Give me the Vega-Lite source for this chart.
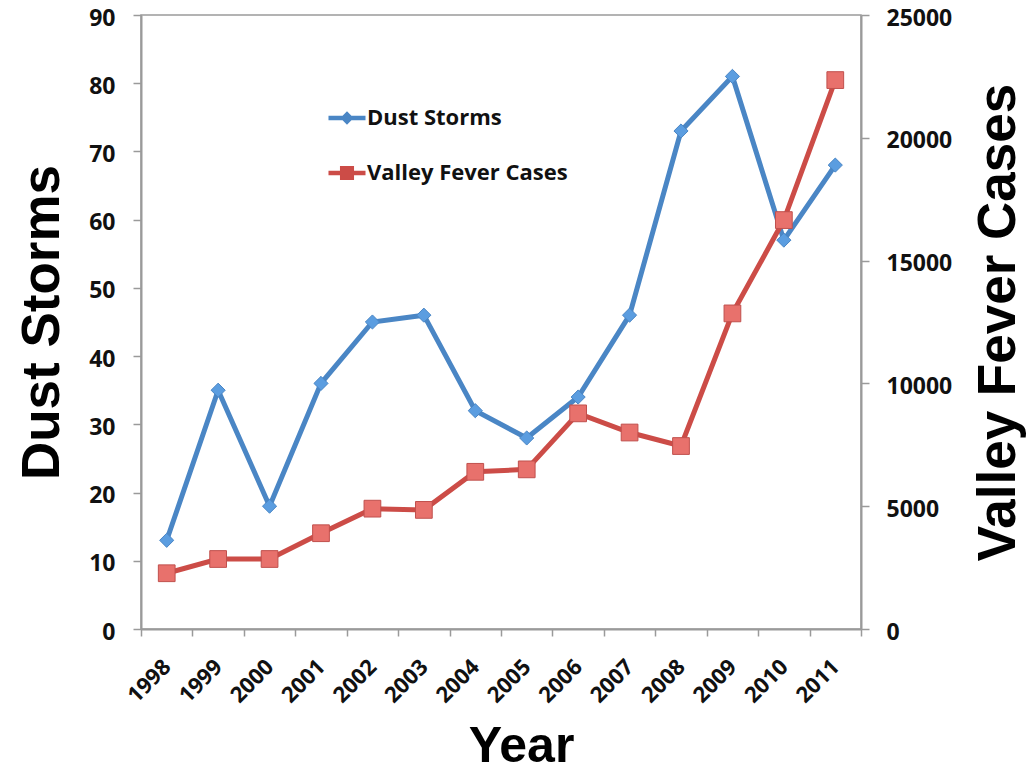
{
  "$schema": "https://vega.github.io/schema/vega-lite/v6.json",
  "width": 720,
  "height": 614,
  "autosize": {"type": "none"},
  "padding": {"left": 141, "top": 15, "right": 168, "bottom": 142},
  "background": "white",
  "config": {
    "view": {"stroke": "#9a9a9a", "strokeWidth": 1.5},
    "axis": {"grid": false, "domainColor": "#9a9a9a", "domainWidth": 2, "tickColor": "#9a9a9a", "tickWidth": 1.5, "labelColor": "#111", "titleColor": "#000"}
  },
  "data": {"values": [
    {"Year": "1998", "Series": "Dust Storms", "Value": 13},
    {"Year": "1999", "Series": "Dust Storms", "Value": 35},
    {"Year": "2000", "Series": "Dust Storms", "Value": 18},
    {"Year": "2001", "Series": "Dust Storms", "Value": 36},
    {"Year": "2002", "Series": "Dust Storms", "Value": 45},
    {"Year": "2003", "Series": "Dust Storms", "Value": 46},
    {"Year": "2004", "Series": "Dust Storms", "Value": 32},
    {"Year": "2005", "Series": "Dust Storms", "Value": 28},
    {"Year": "2006", "Series": "Dust Storms", "Value": 34},
    {"Year": "2007", "Series": "Dust Storms", "Value": 46},
    {"Year": "2008", "Series": "Dust Storms", "Value": 73},
    {"Year": "2009", "Series": "Dust Storms", "Value": 81},
    {"Year": "2010", "Series": "Dust Storms", "Value": 57},
    {"Year": "2011", "Series": "Dust Storms", "Value": 68},
    {"Year": "1998", "Series": "Valley Fever Cases", "Value": 2270},
    {"Year": "1999", "Series": "Valley Fever Cases", "Value": 2850},
    {"Year": "2000", "Series": "Valley Fever Cases", "Value": 2850},
    {"Year": "2001", "Series": "Valley Fever Cases", "Value": 3900},
    {"Year": "2002", "Series": "Valley Fever Cases", "Value": 4900},
    {"Year": "2003", "Series": "Valley Fever Cases", "Value": 4850},
    {"Year": "2004", "Series": "Valley Fever Cases", "Value": 6400},
    {"Year": "2005", "Series": "Valley Fever Cases", "Value": 6500},
    {"Year": "2006", "Series": "Valley Fever Cases", "Value": 8780},
    {"Year": "2007", "Series": "Valley Fever Cases", "Value": 8000},
    {"Year": "2008", "Series": "Valley Fever Cases", "Value": 7450},
    {"Year": "2009", "Series": "Valley Fever Cases", "Value": 12850},
    {"Year": "2010", "Series": "Valley Fever Cases", "Value": 16650},
    {"Year": "2011", "Series": "Valley Fever Cases", "Value": 22350}
  ]},
  "encoding": {
    "x": {
      "field": "Year", "type": "ordinal",
      "scale": {"type": "band", "paddingInner": 0, "paddingOuter": 0},
      "axis": {
        "title": "Year", "titleFont": "Liberation Sans", "titleFontWeight": "bold", "titleFontSize": 50,
        "titleX": 380, "titleY": 117, "titleAlign": "center", "titleBaseline": "middle",
        "labelAngle": -45, "labelAlign": "right", "labelBaseline": "middle",
        "labelFont": "Open Sans", "labelFontWeight": "bold", "labelFontSize": 22, "labelPadding": 27,
        "tickSize": 7, "tickBand": "extent"
      }
    }
  },
  "layer": [
    {
      "transform": [{"filter": "datum.Series === 'Dust Storms'"}],
      "encoding": {
        "y": {
          "field": "Value", "type": "quantitative",
          "scale": {"domain": [0, 90], "nice": false},
          "axis": {
            "orient": "left", "values": [0, 10, 20, 30, 40, 50, 60, 70, 80, 90],
            "title": "Dust Storms", "titleFont": "Liberation Sans", "titleFontWeight": "bold", "titleFontSize": 53,
            "titleAngle": -90, "titleX": -99, "titleY": 307, "titleAlign": "center", "titleBaseline": "middle",
            "labelFont": "Open Sans", "labelFontWeight": "bold", "labelFontSize": 23, "labelPadding": 18, "labelOffset": 3, "tickSize": 8
          }
        }
      },
      "layer": [
        {
          "mark": {"type": "line", "strokeWidth": 5},
          "encoding": {
            "color": {
              "field": "Series", "type": "nominal",
              "scale": {"domain": ["Dust Storms", "Valley Fever Cases"], "range": ["#4a86c5", "#cc4c47"]},
              "legend": {
                "title": null, "orient": "none", "legendX": 187, "legendY": 84,
                "direction": "vertical", "padding": 0, "rowPadding": 25,
                "labelFont": "Open Sans", "labelFontWeight": "bold", "labelFontSize": 22, "labelColor": "#111", "labelLimit": 400,
                "labelOffset": 1, "symbolSize": 1370, "symbolStrokeWidth": 0, "symbolOpacity": 1,
                "encode": {"symbols": {"update": {
                  "fill": {"scale": "color", "field": "value"},
                  "fillOpacity": {"value": 1},
                  "strokeWidth": {"value": 0},
                  "size": {"value": 1370},
                  "shape": {"signal": "datum.value === 'Dust Storms' ? 'M-1,-0.12H1V0.12H-1Z M0,-0.36L0.36,0L0,0.36L-0.36,0Z' : 'M-1,-0.12H1V0.12H-1Z M-0.38,-0.38H0.38V0.38H-0.38Z'"}
                }}}
              }
            }
          }
        },
        {
          "mark": {"type": "point", "shape": "diamond", "size": 200, "filled": true, "fill": "#5b9de0", "stroke": "#4a86c5", "strokeWidth": 1, "opacity": 1}
        }
      ]
    },
    {
      "transform": [{"filter": "datum.Series === 'Valley Fever Cases'"}],
      "encoding": {
        "y": {
          "field": "Value", "type": "quantitative",
          "scale": {"domain": [0, 25000], "nice": false},
          "axis": {
            "orient": "right", "values": [0, 5000, 10000, 15000, 20000, 25000], "format": "d",
            "title": "Valley Fever Cases", "titleFont": "Liberation Sans", "titleFontWeight": "bold", "titleFontSize": 53,
            "titleAngle": -90, "titleX": 137, "titleY": 307, "titleAlign": "center", "titleBaseline": "middle",
            "labelFont": "Open Sans", "labelFontWeight": "bold", "labelFontSize": 23, "labelPadding": 17, "labelOffset": 3, "tickSize": 8
          }
        }
      },
      "layer": [
        {
          "mark": {"type": "line", "strokeWidth": 5},
          "encoding": {"color": {"field": "Series", "type": "nominal"}}
        },
        {
          "mark": {"type": "point", "shape": "square", "size": 280, "filled": true, "fill": "#e8716c", "stroke": "#c0504d", "strokeWidth": 1, "opacity": 1}
        }
      ]
    }
  ],
  "resolve": {"scale": {"y": "independent"}, "axis": {"y": "independent"}}
}
